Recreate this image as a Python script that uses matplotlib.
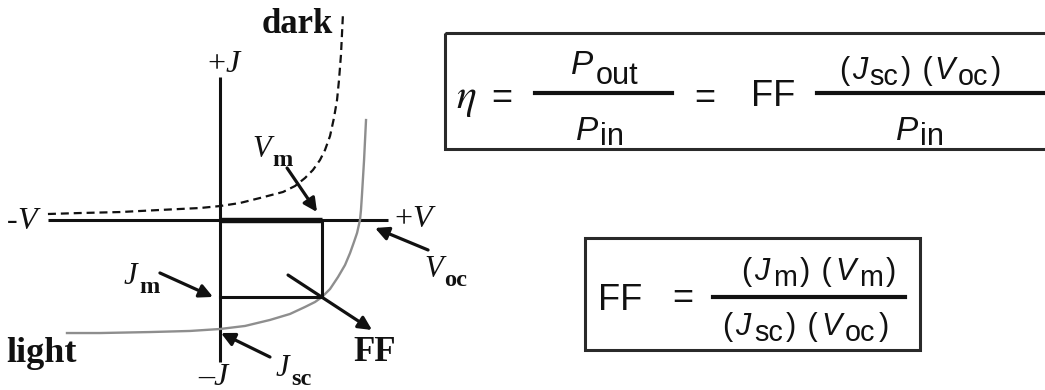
import matplotlib.pyplot as plt

# light / dark J-V curves, V normalised to Voc, J normalised to Jsc
dark_v = [-1.229, -1.0, -0.714, -0.429, -0.143, 0.0, 0.143, 0.286, 0.45, 0.536, 0.607,
	0.664, 0.714, 0.75, 0.786, 0.814, 0.836, 0.85, 0.864, 0.871, 0.879]
dark_j = [0.055, 0.064, 0.073, 0.092, 0.11, 0.128, 0.156, 0.202, 0.257, 0.312, 0.385,
	0.459, 0.55, 0.642, 0.771, 0.936, 1.101, 1.284, 1.514, 1.697, 1.908]
light_v = [-1.093, -0.857, -0.5, -0.214, 0.0, 0.179, 0.357, 0.5, 0.607, 0.679, 0.729,
	0.786, 0.843, 0.893, 0.929, 0.957, 0.979, 1.0, 1.007, 1.014, 1.029, 1.043]
light_j = [-1.037, -1.037, -1.028, -1.018, -1.0, -0.972, -0.917, -0.862, -0.798, -0.752, -0.706,
	-0.633, -0.523, -0.413, -0.303, -0.202, -0.119, 0.0, 0.092, 0.229, 0.55, 0.917]
v_m = 0.729
j_m = -0.706
v_oc = 1.0
j_sc = -1.0
v_range = [-1.23, 1.2]
j_range = [-1.30, 1.31]

SANS = 'Liberation Sans'
SERIF = 'Liberation Serif'
INK = '#111111'


def run(ax, x, y, parts, size, family, sub=0.85, drop=0.3, sp=0.0):
	t = None
	for s, kind in parts:
		style = 'italic' if kind == 'i' else 'normal'
		weight = 'bold' if kind == 'b' else 'normal'
		sz = size * sub if kind in ('s', 'b') else size
		dy = -drop * size if kind in ('s', 'b') else 0
		kw = dict(fontsize=sz, fontstyle=style, fontweight=weight, family=family,
			color=INK, ha='left', va='baseline')
		if t is None:
			t = ax.text(x, y, s, **kw)
		else:
			t = ax.annotate(s, xy=(1, y), xycoords=(t, 'data'), xytext=(sp, dy),
				textcoords='offset points', **kw)
	return t


def product(a, a_sub, b, b_sub):
	return [('(', 'n'), (a, 'i'), (a_sub, 's'), (')', 'n'), (' (', 'n'), (b, 'i'),
		(b_sub, 's'), (')', 'n')]


def arrow(ax, tail, tip):
	ax.annotate('', xy=tip, xytext=tail,
		arrowprops=dict(arrowstyle='-|>', lw=2.3, color=INK, mutation_scale=20,
			shrinkA=0, shrinkB=0))


def main():
	fig = plt.figure(figsize=(10.45, 3.9), dpi=100)
	fig.patch.set_facecolor('white')
	ax = fig.add_axes([0, 0, 1, 1])
	ax.set_xlim(0, 1045)
	ax.set_ylim(390, 0)
	ax.axis('off')
	cv = fig.add_axes([0, 0, 1, 1])
	cv.set_xlim(-220 / 140, 825 / 140)
	cv.set_ylim(-170 / 109, 220 / 109)
	cv.axis('off')

	# axes and curves
	cv.plot(v_range, [0, 0], color=INK, lw=2.2, solid_capstyle='butt')
	cv.plot([0, 0], j_range, color=INK, lw=2.2, solid_capstyle='butt')
	cv.plot(dark_v, dark_j, color=INK, lw=1.6, ls=(0, (3.6, 2.2)))
	cv.plot(light_v, light_j, color='#8e8e8e', lw=1.7)
	cv.plot([0, v_m, v_m, 0], [0, 0, j_m, j_m], color=INK, lw=2.2)
	cv.plot([0, v_m], [0, 0], color=INK, lw=3.9, solid_capstyle='butt')

	arrow(cv, (0.479, 0.477), (v_m - 0.036, 0.073))
	arrow(cv, (1.486, -0.275), (v_oc + 0.107, -0.073))
	arrow(cv, (-0.429, -0.486), (-0.05, j_m))
	arrow(cv, (0.357, j_sc - 0.257), (0.007, j_sc - 0.037))
	arrow(cv, (0.486, -0.505), (1.086, -1.009))

	# diagram labels
	ax.text(262, 33, 'dark', family=SERIF, fontweight='bold', fontsize=25, color=INK)
	ax.text(6, 362, 'light', family=SERIF, fontweight='bold', fontsize=26, color=INK)
	ax.text(353, 361, 'FF', family=SERIF, fontweight='bold', fontsize=25, color=INK)
	run(ax, 207, 72, [('+', 'n'), ('J', 'i')], 23, SERIF)
	run(ax, 7, 229, [('-', 'n'), ('V', 'i')], 23, SERIF)
	run(ax, 394, 227, [('+', 'n'), ('V', 'i')], 23, SERIF)
	run(ax, 198, 385, [('\u2013', 'n'), ('J', 'i')], 23, SERIF)
	run(ax, 252, 157, [('V', 'i'), ('m', 'b')], 22, SERIF, sub=0.8, drop=0.3, sp=1)
	run(ax, 124, 284, [('J', 'i'), ('m', 'b')], 22, SERIF, sub=0.8, drop=0.3, sp=1)
	run(ax, 424, 277, [('V', 'i'), ('oc', 'b')], 22, SERIF, sub=0.8, drop=0.3, sp=1)
	run(ax, 276, 376, [('J', 'i'), ('sc', 'b')], 22, SERIF, sub=0.8, drop=0.28, sp=1)

	# efficiency box
	ax.add_patch(plt.Rectangle((445, 33), 640, 116, fill=False, ec='#2a2a2a', lw=2.2))
	ax.text(456, 108, '$\\eta$', math_fontfamily='stix', fontsize=30, color=INK)
	ax.text(502, 99, '=', family=SANS, fontsize=26, color=INK, ha='center', va='center')
	ax.plot([535, 672], [93, 93], color=INK, lw=3)
	run(ax, 571, 74, [('P', 'i'), ('out', 's')], 24, SANS, sub=0.92, drop=0.3, sp=1.5)
	run(ax, 576, 140, [('P', 'i'), ('in', 's')], 24, SANS, sub=0.92, drop=0.14, sp=1.5)
	ax.text(705, 98, '=', family=SANS, fontsize=26, color=INK, ha='center', va='center')
	ax.text(773, 96, 'FF', family=SANS, fontsize=26, color=INK, ha='center', va='center')
	ax.plot([817, 1045], [93, 93], color=INK, lw=3)
	run(ax, 839, 79, product('J', 'sc', 'V', 'oc'), 22, SANS, sub=0.94, drop=0.2, sp=1.8)
	run(ax, 896, 140, [('P', 'i'), ('in', 's')], 24, SANS, sub=0.92, drop=0.14, sp=1.5)

	# fill factor box
	ax.add_patch(plt.Rectangle((585, 238), 335, 112, fill=False, ec='#2a2a2a', lw=2.2))
	ax.text(620, 300, 'FF', family=SANS, fontsize=26, color=INK, ha='center', va='center')
	ax.text(683, 299, '=', family=SANS, fontsize=26, color=INK, ha='center', va='center')
	ax.plot([713, 905], [297, 297], color=INK, lw=3)
	run(ax, 741, 280, product('J', 'm', 'V', 'm'), 22, SANS, sub=0.94, drop=0.18, sp=2.3)
	run(ax, 722, 335, product('J', 'sc', 'V', 'oc'), 22, SANS, sub=0.94, drop=0.2, sp=2.3)

	fig.savefig('out.png', dpi=100, facecolor='white')


if __name__ == "__main__":
	main()
